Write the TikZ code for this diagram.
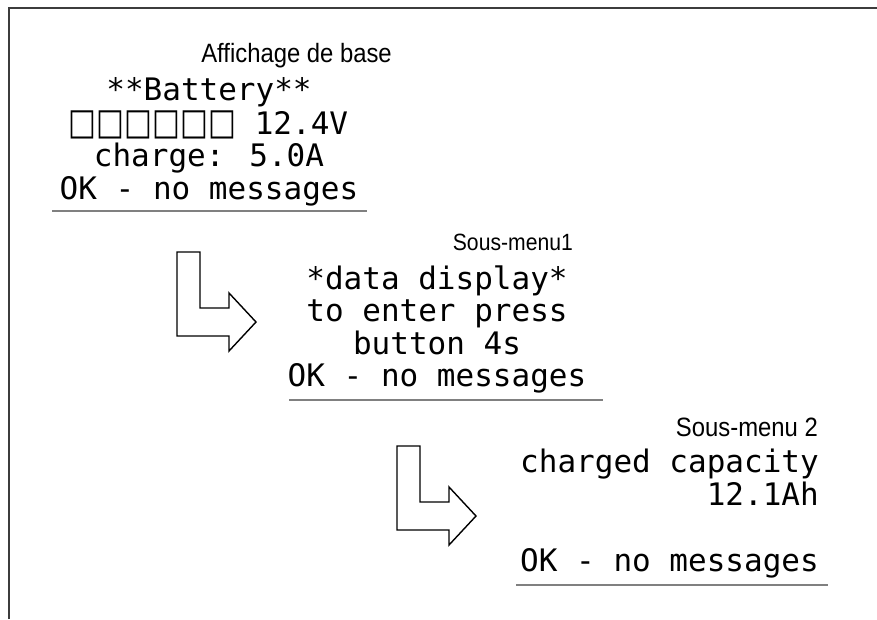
\documentclass[tikz,border=0pt]{standalone}
\usepackage{graphicx}
\usepackage{fontspec}
\newfontfamily\monof{DejaVu Sans Mono}
\newfontfamily\lblf[FakeStretch=0.9]{Liberation Sans}
\newfontfamily\sqf{DejaVu Sans}
\definecolor{ulgray}{RGB}{128,128,128}
\definecolor{framec}{RGB}{60,60,60}
\begin{document}
\begin{tikzpicture}[x=1pt,y=-1pt,
  lcd/.style={font=\monof\fontsize{31}{33}\selectfont, inner sep=0pt, anchor=base},
  lcdr/.style={lcd, anchor=base east},
  lbl/.style={font=\lblf\fontsize{#1}{#1}\selectfont, inner sep=0pt, anchor=base east},
  uline/.style={draw=ulgray, line width=2pt},
  frameline/.style={draw=framec, line width=2pt},
  barrow/.style={draw=black, line width=1.4pt, fill=white, line join=miter},
  larrow/.pic={\draw[barrow] (0,0) -- (23,0) -- (23,56) -- (52,56) -- (52,41) -- (79,70) -- (52,99) -- (52,84) -- (0,84) -- cycle;}
]
\useasboundingbox (0,0) rectangle (877,619);
\draw[frameline] (9,619) -- (9,8) -- (877,8);

% Block 1
\node[lbl=26.5] (t1) at (392,62) {Affichage de base};
\node[lcd] (b1l1) at (209,100) {**Battery**};
\node[lcd] (b1l2) at (208.5,134) {\scalebox{1}[1.25]{\sqf\fontsize{29.5}{29.5}\selectfont □□□□□□} 12.4V};
\node[lcd] (b1l3) at (209,166) {charge: 5.0A};
\node[lcd] (b1l4) at (209,199) {OK - no messages};
\draw[uline] (52,211) coordinate (u1a) -- (367,211) coordinate (u1b);

\pic at (177,252) {larrow};

% Block 2
\node[lbl=23.5] (t2) at (573,250) {Sous-menu1};
\node[lcd] (b2l1) at (437,289) {*data display*};
\node[lcd] (b2l2) at (437,321) {to enter press};
\node[lcd] (b2l3) at (437,354) {button 4s};
\node[lcd] (b2l4) at (437,386) {OK - no messages};
\draw[uline] (289,400) coordinate (u2a) -- (603,400) coordinate (u2b);

\pic at (397,446) {larrow};

% Block 3
\node[lbl=26.5] (t3) at (818,436) {Sous-menu 2};
\node[lcdr] (b3l1) at (819,472) {charged capacity};
\node[lcdr] (b3l2) at (819,505) {12.1Ah};
\node[lcdr] (b3l4) at (819,571) {OK - no messages};
\draw[uline] (516,585) coordinate (u3a) -- (828,585) coordinate (u3b);
\end{tikzpicture}
\end{document}
